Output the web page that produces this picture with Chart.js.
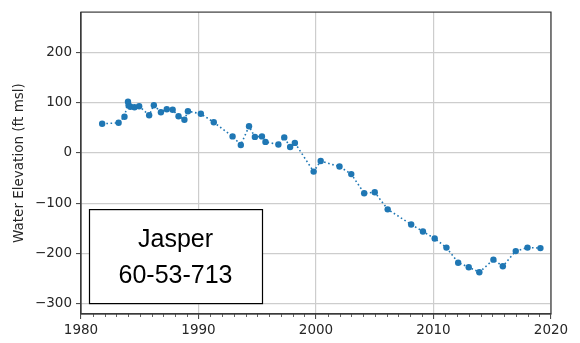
<!DOCTYPE html>
<html>
<head>
<meta charset="utf-8">
<script src="https://cdn.jsdelivr.net/npm/chart.js@4.4.1/dist/chart.umd.min.js"></script>
<style>
  html, body { margin: 0; padding: 0; background: #ffffff; }
  #wrap { width: 580px; height: 343px; }
</style>
</head>
<body>
<div id="wrap"><canvas id="c" width="580" height="343"></canvas></div>
<script>
// Well measurements: decimal year of each reading
const years = [
  1981.8, 1983.2, 1983.7, 1984.0, 1984.05, 1984.2, 1984.55, 1984.95, 1985.8, 1986.2,
  1986.8, 1987.3, 1987.8, 1988.3, 1988.8, 1989.1, 1990.2, 1991.3, 1992.9, 1993.6,
  1994.3, 1994.8, 1995.4, 1995.7, 1996.8, 1997.3, 1997.8, 1998.2, 1999.8, 2000.4,
  2002.0, 2003.0, 2004.1, 2005.0, 2006.1, 2008.1, 2009.1, 2010.1, 2011.1, 2012.1,
  2013.0, 2013.9, 2015.1, 2015.9, 2017.0, 2018.0, 2019.1
];
// Water elevation (ft msl) at each reading
const elevations = [
  58, 60, 72, 102, 95, 92, 91, 93, 75, 95,
  81, 87, 86, 73, 66, 83, 78, 61, 33, 16,
  53, 32, 33, 22, 17, 31, 12, 20, -37, -16,
  -27, -42, -80, -78, -112, -142, -156, -170, -188, -218,
  -227, -237, -212, -225, -195, -188, -189
];
const xTicks = [1980, 1990, 2000, 2010, 2020];
const yTicks = [-300, -200, -100, 0, 100, 200];
const wellLabel = ['Jasper', '60-53-713'];
const yTitle = 'Water Elevation (ft msl)';

const points = years.map((y, i) => ({ x: y, y: elevations[i] }));

Chart.defaults.font.family = "'DejaVu Sans', sans-serif";
Chart.defaults.color = '#262626';

const blue = '#1f77b4';
const frameColor = '#3a3a3a';

// Frame around the plotting area, yearly minor ticks and the well label box
const extras = {
  id: 'extras',
  afterDraw(chart) {
    const { ctx, chartArea: a, scales } = chart;
    const xs = scales.x;
    ctx.save();
    // yearly minor ticks
    ctx.strokeStyle = frameColor;
    ctx.lineWidth = 0.8;
    for (let yr = 1981; yr < 2020; yr++) {
      if (yr % 10 === 0) continue;
      const px = Math.round(xs.getPixelForValue(yr)) + 0.5;
      ctx.beginPath();
      ctx.moveTo(px, a.bottom);
      ctx.lineTo(px, a.bottom + 3);
      ctx.stroke();
    }
    // frame
    ctx.lineWidth = 1.2;
    ctx.strokeRect(a.left, a.top, a.right - a.left, a.bottom - a.top);
    // label box
    const bx = a.left + 8, by = a.top + 197, bw = 173, bh = 94;
    ctx.fillStyle = '#ffffff';
    ctx.fillRect(bx, by, bw, bh);
    ctx.strokeStyle = '#000000';
    ctx.lineWidth = 1.2;
    ctx.strokeRect(bx + 0.5, by + 0.5, bw, bh);
    ctx.fillStyle = '#000000';
    ctx.font = "25px 'Liberation Sans', sans-serif";
    ctx.textAlign = 'center';
    ctx.textBaseline = 'middle';
    ctx.fillText(wellLabel[0], bx + bw / 2, by + 31);
    ctx.fillText(wellLabel[1], bx + bw / 2, by + 67);
    ctx.restore();
  }
};

new Chart(document.getElementById('c'), {
  type: 'scatter',
  data: {
    datasets: [{
      data: points,
      showLine: true,
      borderColor: blue,
      borderWidth: 1.6,
      borderDash: [1.6, 2.6],
      pointRadius: 3.2,
      pointHoverRadius: 3.2,
      pointBackgroundColor: blue,
      pointBorderWidth: 0,
      tension: 0
    }]
  },
  options: {
    responsive: false,
    animation: false,
    devicePixelRatio: 1,
    layout: { padding: { top: 8, right: 29, left: 0, bottom: 0 } },
    plugins: { legend: { display: false }, tooltip: { enabled: false } },
    scales: {
      x: {
        type: 'linear',
        min: 1980, max: 2020,
        afterBuildTicks(s) { s.ticks = xTicks.map(v => ({ value: v })); },
        afterFit(s) { s.height = 29; },
        grid: { color: '#cdcdcd', lineWidth: 1.2, tickLength: 5, tickColor: frameColor, tickWidth: 1 },
        border: { color: frameColor, width: 1.2 },
        ticks: { padding: 3, font: { size: 13.5 }, callback: v => String(v) }
      },
      y: {
        type: 'linear',
        min: -320, max: 280,
        afterBuildTicks(s) { s.ticks = yTicks.map(v => ({ value: v })); },
        afterFit(s) { s.width = 81; },
        grid: { color: '#cdcdcd', lineWidth: 1.2, tickLength: 5, tickColor: frameColor, tickWidth: 1 },
        border: { color: frameColor, width: 1.2 },
        ticks: { padding: 4, font: { size: 13.5 }, callback: v => (v < 0 ? '\u2212' + Math.abs(v) : String(v)) },
        title: { display: true, text: yTitle, font: { size: 13.5 }, padding: { top: 11, bottom: 0 } }
      }
    }
  },
  plugins: [extras]
});
</script>
</body>
</html>
